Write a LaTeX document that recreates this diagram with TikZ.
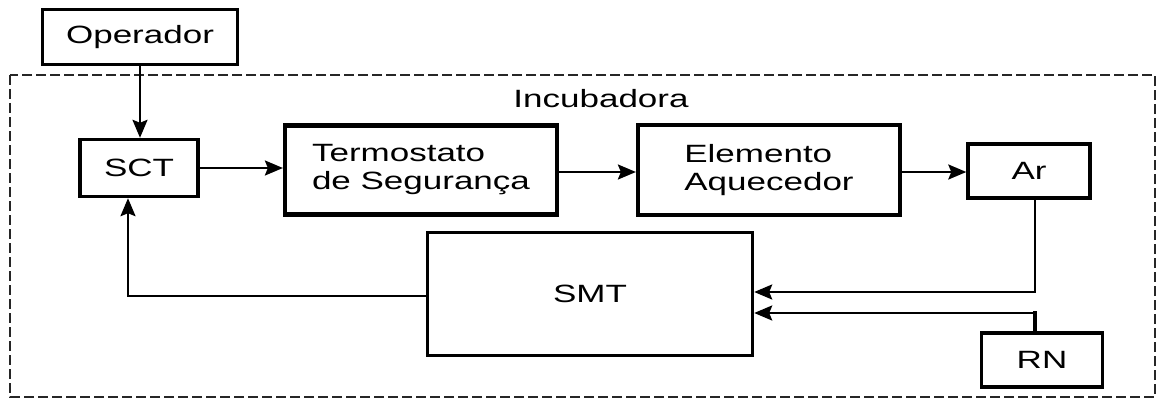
\documentclass[tikz,border=0pt]{standalone}
\usepackage{fontspec}
\setmainfont{Liberation Sans}[FakeStretch=1.4]
\usetikzlibrary{arrows.meta,calc}

\begin{document}
\begin{tikzpicture}[x=0.5pt,y=-0.5pt,
        font=\fontsize{12.5}{14}\selectfont,
        blk/.style={draw, line width=1.7pt, inner sep=0pt, align=left},
        arr/.style={line width=1.2pt, -{Stealth[length=9pt,width=7.5pt,inset=1.5pt]}}]
        \useasboundingbox (0,0) rectangle (1160,401);

        % system boundary
        \draw[line width=1.2pt, dash pattern=on 5pt off 2pt, black!85] (10,75) rectangle (1155,397);
        \node (inc) at (601,99) {Incubadora};

        \node[blk, minimum width=97.5pt, minimum height=27.5pt] (op) at (140,37) {Operador};
        \node[blk, minimum width=59pt, minimum height=28.5pt] (sct) at (139,168) {SCT};
        \node[blk, line width=2.1pt, minimum width=136pt, minimum height=44.5pt] (term) at (421,170) {Termostato\\de Segurança};
        \node[blk, line width=2.1pt, minimum width=131pt, minimum height=45pt] (elem) at (769,170) {Elemento\\Aquecedor};
        \node[blk, minimum width=61pt, minimum height=27pt] (ar) at (1029,171) {Ar};
        \node[blk, minimum width=162.5pt, minimum height=61.5pt] (smt) at (590,294) {SMT};
        \node[blk, minimum width=60.5pt, minimum height=27pt] (rn) at (1042,360) {RN};

        \draw[arr] (op.south) -- (op.south |- sct.north);
        \draw[arr] (sct.east) -- (sct.east -| term.west);
        \draw[arr] ([yshift=-1pt]term.east) -- ([yshift=-1pt]term.east -| elem.west);
        \draw[arr] ([yshift=-1pt]elem.east) -- ([yshift=-1pt]elem.east -| ar.west);
        \draw[arr] ([xshift=3pt]ar.south) |- ([yshift=1pt]smt.east);
        \draw[arr] ([xshift=-3.5pt]rn.north) |- ([yshift=-9.5pt]smt.east);
        \draw[line width=2.4pt] ([xshift=-3.5pt]rn.north) -- ++(0,-20);
        \draw[arr] ([yshift=-1pt]smt.west) -| ([xshift=-5.5pt]sct.south);
\end{tikzpicture}
\end{document}
